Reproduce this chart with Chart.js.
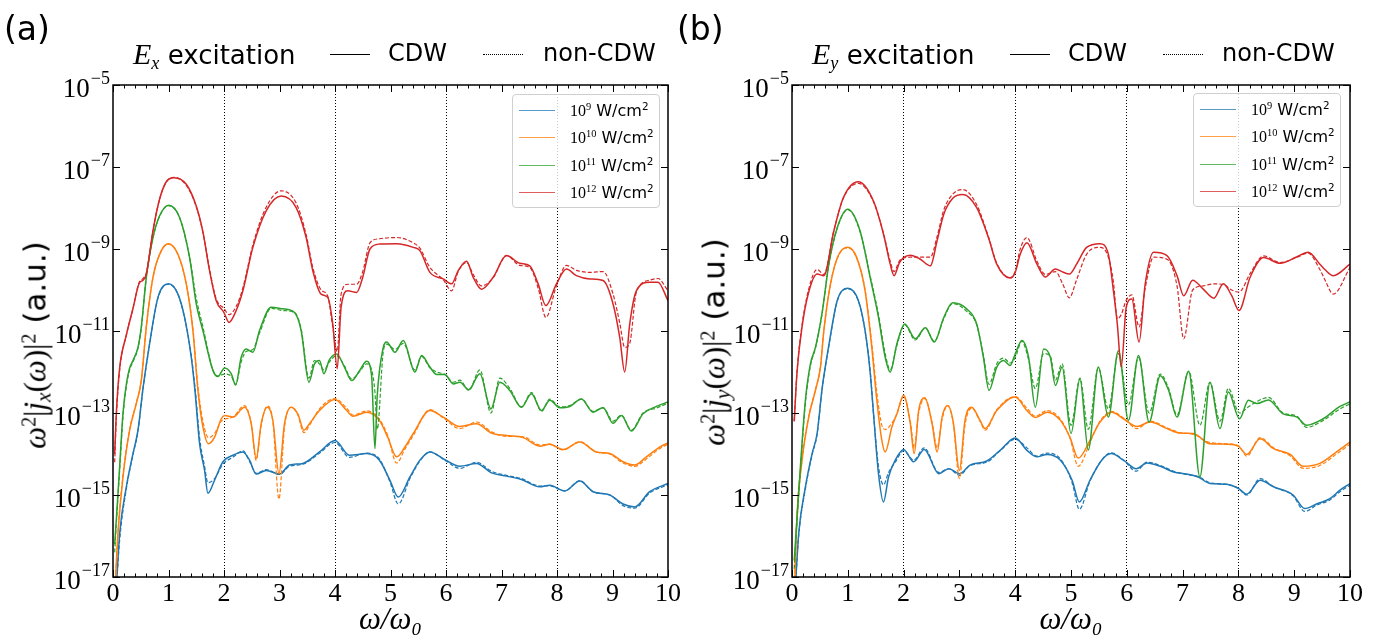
<!DOCTYPE html>
<html><head><meta charset="utf-8">
<script src="https://cdn.jsdelivr.net/npm/chart.js@4.4.1/dist/chart.umd.min.js"></script>
<style>
html,body{margin:0;padding:0;background:#fff;}
body{width:1379px;height:641px;position:relative;overflow:hidden;font-family:'DejaVu Sans',sans-serif;color:#000;}
canvas{position:absolute;top:0;}
.abs{position:absolute;white-space:nowrap;line-height:1;}
.tag{font-size:33px;top:12px;}
.ttl{font-size:24px;top:41px;}
.mi{font-family:'Liberation Serif',serif;font-style:italic;}
.rm{font-family:'Liberation Serif',serif;}
sup{font-size:0.65em;vertical-align:0.5em;line-height:0;}
sub{font-size:0.7em;vertical-align:-0.25em;line-height:0;}
.sample{position:absolute;width:40px;height:0;top:54px;}
.ylab{font-size:31px;transform:translate(-50%,-50%) rotate(-90deg);}
.legend{position:absolute;background:rgba(255,255,255,0.8);border:1px solid #cfcfcf;border-radius:4px;box-sizing:border-box;}
.lrow{position:absolute;left:0;height:0;}
.lline{position:absolute;left:6px;width:36px;height:0;border-top:1.8px solid;}
.ltxt{position:absolute;left:57px;font-size:16px;transform:translateY(-50%);white-space:nowrap;}
</style></head>
<body>
<canvas id="cA" width="690" height="641" style="left:0px;width:690px;height:641px"></canvas>
<canvas id="cB" width="694" height="641" style="left:685px;width:694px;height:641px"></canvas>

<div class="abs tag" style="left:4px">(a)</div>
<div class="abs ttl" style="left:133px;font-size:26px;top:39px"><span class="mi" style="font-size:30px">E</span><sub class="mi">x</sub> excitation</div>
<div class="sample" style="left:330px;border-top:1.5px solid #000"></div>
<div class="abs ttl" style="left:388px">CDW</div>
<div class="sample" style="left:483px;border-top:1.5px dotted #000"></div>
<div class="abs ttl" style="left:543px">non-CDW</div>

<div class="abs tag" style="left:677px">(b)</div>
<div class="abs ttl" style="left:812px;font-size:26px;top:39px"><span class="mi" style="font-size:30px">E</span><sub class="mi">y</sub> excitation</div>
<div class="sample" style="left:1010px;border-top:1.5px solid #000"></div>
<div class="abs ttl" style="left:1068px">CDW</div>
<div class="sample" style="left:1163px;border-top:1.5px dotted #000"></div>
<div class="abs ttl" style="left:1222px">non-CDW</div>

<div class="abs ylab" style="left:35px;top:345px"><span class="mi">ω</span><sup class="rm">2</sup><span class="rm">|</span><span class="mi">j</span><sub class="mi">x</sub><span class="rm">(</span><span class="mi">ω</span><span class="rm">)|</span><sup class="rm">2</sup> (a.u.)</div>
<div class="abs ylab" style="left:714px;top:342px"><span class="mi">ω</span><sup class="rm">2</sup><span class="rm">|</span><span class="mi">j</span><sub class="mi">y</sub><span class="rm">(</span><span class="mi">ω</span><span class="rm">)|</span><sup class="rm">2</sup> (a.u.)</div>

<div id="legA" class="legend" style="left:512px;top:94px;width:148px;height:114px"></div>
<div id="legB" class="legend" style="left:1193px;top:93px;width:148px;height:114px"></div>

<script>
// ---------- data (values are log10 of ω²|j(ω)|²) ----------
const intensityExp = [9, 10, 11, 12];
const seriesColors = ['#1f77b4', '#ff7f0e', '#2ca02c', '#d62728'];
const yTickExp = [-17, -15, -13, -11, -9, -7, -5];
const xTicks = [0,1,2,3,4,5,6,7,8,9,10];
const dottedLinesAt = [2, 4, 6, 8];

// Panel (a): E_x excitation
const xA_blue = [0.05,0.12,0.24,0.36,0.45,0.54,0.66,0.81,1.00,1.17,1.29,1.41,1.48,1.56,1.65,1.71,1.83,1.98,2.16,2.34,2.46,2.58,2.76,3.00,3.18,3.42,3.72,4.00,4.26,4.57,4.80,4.99,5.14,5.35,5.53,5.71,5.98,6.25,6.55,6.82,7.09,7.36,7.69,7.87,8.14,8.41,8.65,8.95,9.19,9.40,9.67,10.0];
const yA_blue_cdw = [-17.5,-15.94,-14.80,-13.99,-13.42,-12.4,-11.3,-10.18,-9.85,-10.10,-10.67,-11.64,-12.5,-13.75,-14.40,-14.96,-14.64,-14.19,-14.03,-13.95,-14.15,-14.49,-14.40,-14.49,-14.27,-14.23,-13.95,-13.67,-14.03,-13.99,-14.15,-14.64,-15.05,-14.56,-14.15,-13.95,-14.14,-14.30,-14.23,-14.46,-14.54,-14.62,-14.80,-14.76,-14.90,-14.66,-14.92,-15.0,-15.22,-15.29,-14.92,-14.72];
const yA_blue_non = [-17.5,-16.1,-14.85,-14.02,-13.45,-12.42,-11.32,-10.2,-9.86,-10.1,-10.68,-11.6,-12.4,-13.6,-14.3,-14.7,-14.6,-14.25,-14.08,-13.92,-14.18,-14.47,-14.38,-14.5,-14.3,-14.25,-13.98,-13.72,-14.08,-13.98,-14.12,-14.68,-15.22,-14.6,-14.17,-13.95,-14.15,-14.35,-14.2,-14.42,-14.52,-14.6,-14.78,-14.78,-14.9,-14.65,-14.92,-15.0,-15.26,-15.32,-14.95,-14.75];

const xA_orange = [0.03,0.09,0.18,0.30,0.42,0.51,0.60,0.72,0.87,1.00,1.17,1.32,1.44,1.53,1.62,1.72,1.83,1.95,2.01,2.16,2.37,2.49,2.58,2.67,2.78,2.88,2.99,3.09,3.21,3.33,3.44,3.54,3.72,4.00,4.21,4.32,4.57,4.80,4.95,5.11,5.26,5.41,5.71,5.95,6.25,6.55,6.82,7.09,7.39,7.69,7.87,8.11,8.41,8.71,8.95,9.19,9.40,9.61,9.85,10.0];
const yA_orange_cdw = [-17.5,-15.94,-14.56,-13.42,-12.77,-12.21,-10.9,-9.69,-9.04,-8.87,-9.13,-9.85,-10.99,-12.45,-13.34,-13.75,-13.59,-13.14,-13.06,-13.10,-12.86,-13.26,-14.11,-13.26,-12.86,-13.18,-14.48,-13.26,-12.86,-13.02,-13.42,-13.26,-12.94,-12.67,-12.94,-13.08,-12.98,-13.18,-13.59,-14.07,-13.83,-13.50,-12.94,-13.10,-13.33,-13.26,-13.49,-13.55,-13.60,-13.81,-13.76,-13.89,-13.71,-13.95,-13.99,-14.19,-14.27,-14.07,-13.83,-13.73];
const yA_orange_non = [-17.5,-15.9,-14.52,-13.4,-12.75,-12.2,-10.9,-9.7,-9.05,-8.88,-9.14,-9.86,-10.95,-12.35,-13.2,-13.6,-13.5,-13.2,-13.15,-13.1,-12.82,-13.25,-14.15,-13.3,-12.83,-13.2,-15.1,-13.35,-12.86,-13.05,-13.48,-13.3,-12.9,-12.65,-12.88,-13.05,-12.95,-13.15,-13.55,-14.22,-13.88,-13.55,-12.92,-13.12,-13.38,-13.22,-13.46,-13.57,-13.58,-13.78,-13.76,-13.9,-13.7,-13.95,-14.0,-14.22,-14.3,-14.12,-13.87,-13.76];

const xA_green = [0.03,0.06,0.12,0.18,0.24,0.30,0.36,0.45,0.51,0.60,0.72,0.84,1.00,1.20,1.38,1.50,1.62,1.80,1.89,2.01,2.13,2.21,2.31,2.40,2.52,2.64,2.85,3.06,3.27,3.39,3.53,3.63,3.72,3.80,3.90,4.03,4.17,4.30,4.45,4.57,4.66,4.72,4.76,4.87,4.93,5.08,5.23,5.44,5.56,5.71,5.83,5.98,6.13,6.25,6.41,6.61,6.81,6.97,7.15,7.36,7.54,7.72,7.87,8.05,8.23,8.44,8.65,8.83,9.01,9.16,9.34,9.55,9.79,10.0];
const yA_green_cdw = [-16.2,-15.6,-14.3,-13.0,-12.3,-11.9,-11.72,-11.40,-10.9,-9.69,-8.72,-8.19,-7.93,-8.23,-9.21,-10.34,-10.99,-11.96,-12.11,-11.90,-12.04,-12.32,-11.64,-11.44,-11.52,-10.99,-10.42,-10.46,-10.55,-10.99,-12.25,-11.80,-11.72,-12.04,-11.70,-11.56,-11.88,-12.21,-11.95,-11.74,-12.1,-13.87,-12.6,-11.40,-11.27,-11.52,-11.23,-12.0,-11.60,-11.88,-12.06,-12.06,-12.29,-12.25,-12.43,-12.04,-12.90,-12.25,-12.45,-12.86,-12.53,-12.94,-12.69,-12.87,-12.84,-12.66,-12.98,-12.87,-13.25,-13.06,-13.44,-13.02,-12.84,-12.73];
const yA_green_non = [-16.4,-15.7,-14.4,-13.1,-12.35,-11.95,-11.75,-11.42,-10.92,-9.7,-8.73,-8.2,-7.94,-8.24,-9.2,-10.2,-10.9,-11.95,-12.1,-12.05,-12.1,-12.3,-11.75,-11.5,-11.45,-11.05,-10.45,-10.5,-10.55,-10.95,-12.15,-11.72,-11.8,-11.95,-11.75,-11.6,-11.85,-12.17,-11.98,-11.8,-11.95,-12.5,-13.4,-11.5,-11.32,-11.45,-11.3,-11.95,-11.62,-11.9,-12.0,-12.06,-12.25,-12.2,-12.45,-11.95,-13.0,-12.15,-12.4,-12.85,-12.5,-12.96,-12.66,-12.85,-12.82,-12.66,-12.96,-12.87,-13.2,-13.05,-13.42,-13.0,-12.88,-12.76];

const xA_red = [0.03,0.06,0.12,0.24,0.36,0.47,0.54,0.60,0.72,0.84,0.96,1.10,1.32,1.50,1.62,1.74,1.86,2.00,2.09,2.22,2.34,2.52,2.76,3.03,3.30,3.48,3.60,3.75,3.87,3.96,4.04,4.11,4.23,4.39,4.50,4.63,4.80,5.11,5.41,5.53,5.71,5.95,6.10,6.22,6.37,6.49,6.64,6.85,7.09,7.33,7.51,7.66,7.80,7.99,8.17,8.35,8.59,8.83,9.01,9.13,9.22,9.31,9.43,9.67,9.82,10.0];
const yA_red_cdw = [-14.0,-13.0,-11.9,-11.1,-10.45,-9.84,-9.76,-9.62,-8.56,-7.78,-7.36,-7.26,-7.42,-7.95,-8.58,-9.53,-10.26,-10.55,-10.79,-10.50,-10.02,-8.96,-8.07,-7.71,-7.99,-8.72,-9.53,-10.10,-10.18,-10.83,-11.92,-10.42,-10.02,-10.06,-9.69,-9.0,-8.88,-8.87,-8.96,-9.04,-9.57,-9.73,-9.85,-9.53,-9.30,-9.69,-9.98,-9.69,-9.16,-9.35,-9.41,-9.85,-10.38,-9.85,-9.49,-9.65,-9.73,-9.77,-10.34,-11.15,-12.0,-10.83,-10.02,-9.81,-9.81,-10.26];
const yA_red_non = [-14.2,-13.1,-11.95,-11.1,-10.45,-9.82,-9.72,-9.58,-8.55,-7.78,-7.37,-7.25,-7.45,-7.97,-8.6,-9.5,-10.22,-10.45,-10.6,-10.4,-9.95,-8.9,-7.98,-7.58,-7.88,-8.65,-9.45,-10.0,-10.15,-10.9,-11.5,-10.1,-9.86,-9.86,-9.55,-8.85,-8.75,-8.72,-8.85,-8.98,-9.45,-9.75,-10.02,-9.55,-9.33,-9.62,-9.9,-9.7,-9.16,-9.4,-9.45,-9.95,-10.67,-9.9,-9.4,-9.52,-9.57,-9.55,-10.1,-10.8,-11.4,-11.3,-10.05,-9.76,-9.72,-10.02];

// Panel (b): E_y excitation
const xB_blue = [0.05,0.12,0.24,0.36,0.45,0.54,0.66,0.81,1.00,1.19,1.31,1.40,1.46,1.55,1.64,1.73,1.85,2.00,2.18,2.37,2.63,2.81,3.00,3.19,3.49,3.73,4.00,4.21,4.39,4.57,4.81,5.02,5.15,5.34,5.55,5.72,5.94,6.17,6.36,6.60,6.84,7.07,7.28,7.49,7.79,8.00,8.15,8.39,8.63,8.98,9.19,9.40,9.64,9.82,10.0];
const yB_blue_cdw = [-17.5,-15.94,-14.80,-13.99,-13.50,-12.4,-11.35,-10.26,-9.96,-10.26,-10.99,-12.0,-13.0,-14.48,-15.17,-14.56,-14.15,-13.89,-14.19,-13.89,-14.48,-14.36,-14.48,-14.27,-14.17,-13.91,-13.61,-13.91,-14.07,-14.01,-14.15,-14.64,-15.17,-14.64,-14.15,-13.99,-14.15,-14.36,-14.22,-14.30,-14.44,-14.49,-14.56,-14.72,-14.74,-14.84,-14.98,-14.64,-14.80,-15.0,-15.33,-15.22,-15.09,-14.88,-14.72];
const yB_blue_non = [-17.5,-16.0,-14.85,-14.02,-13.52,-12.42,-11.37,-10.27,-9.97,-10.27,-11.0,-11.95,-13.0,-14.3,-14.75,-14.45,-14.2,-13.92,-14.15,-13.85,-14.45,-14.36,-14.52,-14.28,-14.2,-13.92,-13.64,-13.85,-14.05,-13.98,-14.12,-14.7,-15.35,-14.66,-14.15,-13.97,-14.15,-14.42,-14.2,-14.28,-14.42,-14.5,-14.55,-14.7,-14.74,-14.84,-15.0,-14.6,-14.8,-15.02,-15.4,-15.25,-15.12,-14.92,-14.76];

const xB_orange = [0.04,0.09,0.18,0.30,0.42,0.51,0.57,0.69,0.83,1.00,1.16,1.31,1.43,1.52,1.61,1.67,1.79,1.88,2.00,2.12,2.19,2.27,2.38,2.51,2.60,2.69,2.79,2.89,3.00,3.10,3.22,3.37,3.46,3.67,4.00,4.21,4.36,4.57,4.81,4.98,5.13,5.34,5.52,5.73,5.94,6.18,6.42,6.72,6.95,7.19,7.49,7.79,8.00,8.15,8.39,8.63,8.93,9.16,9.46,9.76,10.0];
const yB_orange_cdw = [-17.5,-15.53,-14.15,-13.10,-12.45,-11.88,-11.0,-9.85,-9.16,-8.96,-9.21,-10.02,-11.4,-12.69,-13.67,-13.95,-13.34,-13.02,-12.57,-13.26,-13.99,-12.94,-12.63,-13.26,-13.95,-13.10,-12.82,-13.22,-14.40,-13.18,-12.86,-13.18,-13.38,-12.94,-12.61,-12.94,-13.11,-12.98,-13.18,-13.59,-14.10,-13.67,-13.22,-12.98,-13.14,-13.33,-13.22,-13.38,-13.49,-13.50,-13.75,-13.76,-13.81,-14.01,-13.63,-13.87,-14.01,-14.30,-14.23,-13.95,-13.71];
const yB_orange_non = [-17.5,-15.5,-14.12,-13.08,-12.43,-11.87,-11.0,-9.86,-9.17,-8.97,-9.22,-10.0,-11.3,-12.5,-13.3,-13.4,-13.25,-13.02,-12.6,-13.2,-13.85,-13.0,-12.65,-13.22,-13.85,-13.15,-12.82,-13.25,-14.6,-13.3,-12.88,-13.2,-13.42,-12.92,-12.6,-12.88,-13.08,-12.94,-13.15,-13.6,-14.3,-13.72,-13.2,-12.96,-13.12,-13.38,-13.2,-13.36,-13.48,-13.52,-13.72,-13.75,-13.8,-14.05,-13.6,-13.85,-14.05,-14.35,-14.28,-14.0,-13.76];

const xB_green = [0.04,0.06,0.15,0.24,0.33,0.42,0.54,0.66,0.81,1.00,1.22,1.40,1.55,1.67,1.76,1.88,2.02,2.21,2.39,2.55,2.72,2.88,3.13,3.31,3.43,3.53,3.67,3.79,3.91,4.00,4.12,4.24,4.36,4.51,4.63,4.72,4.84,5.00,5.16,5.31,5.49,5.67,5.85,6.03,6.21,6.40,6.60,6.75,6.90,7.11,7.31,7.49,7.67,7.82,8.02,8.18,8.33,8.54,8.80,9.05,9.22,9.52,9.82,10.0];
const yB_green_cdw = [-16.6,-16.18,-14.32,-12.69,-11.80,-11.40,-10.55,-9.37,-8.48,-8.03,-8.56,-9.69,-10.67,-11.64,-12.0,-11.31,-10.83,-11.19,-10.92,-11.27,-10.67,-10.31,-10.46,-10.83,-11.64,-12.45,-11.88,-11.72,-11.84,-11.56,-11.23,-11.64,-12.86,-11.44,-11.64,-12.33,-11.88,-13.50,-12.17,-13.90,-11.88,-13.10,-11.48,-13.18,-11.60,-13.22,-12.09,-12.45,-13.10,-11.99,-14.56,-12.25,-13.38,-12.49,-13.14,-12.69,-12.77,-12.68,-13.02,-13.10,-13.30,-13.14,-12.84,-12.73];
const yB_green_non = [-16.8,-16.3,-14.4,-12.75,-11.85,-11.42,-10.57,-9.38,-8.5,-8.04,-8.58,-9.65,-10.6,-11.55,-11.95,-11.35,-10.85,-11.22,-10.92,-11.25,-10.7,-10.33,-10.52,-10.85,-11.6,-12.3,-11.8,-11.66,-11.78,-11.65,-11.25,-11.7,-12.4,-11.55,-11.62,-12.2,-11.8,-13.3,-12.15,-13.4,-11.9,-12.9,-11.55,-12.8,-11.65,-13.0,-12.05,-12.4,-13.05,-11.98,-13.3,-12.25,-13.2,-12.4,-13.0,-12.85,-12.72,-12.62,-13.0,-13.08,-13.35,-13.18,-12.9,-12.78];

const xB_red = [0.04,0.09,0.18,0.30,0.45,0.57,0.75,0.92,1.19,1.46,1.64,1.76,1.83,1.92,2.00,2.12,2.30,2.48,2.60,2.72,2.89,3.06,3.31,3.52,3.67,3.91,4.00,4.09,4.21,4.39,4.54,4.72,4.85,4.97,5.10,5.28,5.52,5.67,5.76,5.83,5.90,5.99,6.09,6.22,6.33,6.48,6.72,6.90,7.02,7.18,7.37,7.56,7.73,7.88,8.01,8.21,8.45,8.75,9.05,9.25,9.46,9.55,9.70,10.0];
const yB_red_cdw = [-13.2,-12.0,-10.9,-10.05,-9.61,-9.65,-8.56,-7.75,-7.36,-7.83,-8.64,-9.37,-9.65,-9.35,-9.21,-9.15,-9.25,-9.41,-8.80,-8.15,-7.75,-7.67,-7.99,-8.72,-9.37,-9.71,-9.57,-9.13,-8.85,-9.37,-9.68,-9.49,-9.56,-9.61,-9.37,-8.96,-8.87,-9.13,-10.02,-10.83,-11.88,-10.42,-10.22,-11.27,-9.85,-9.08,-9.16,-9.65,-10.14,-9.76,-9.98,-10.20,-9.85,-10.14,-10.50,-9.69,-9.21,-9.35,-9.19,-9.08,-9.37,-9.5,-9.65,-9.37];
const yB_red_non = [-13.2,-12.0,-10.85,-9.98,-9.5,-9.62,-8.55,-7.76,-7.4,-7.85,-8.62,-9.3,-9.55,-9.3,-9.22,-9.2,-9.2,-9.2,-8.7,-8.05,-7.65,-7.55,-7.92,-8.7,-9.35,-9.7,-9.55,-9.0,-8.72,-9.3,-9.62,-9.55,-9.85,-10.19,-9.75,-9.13,-8.96,-9.2,-9.8,-10.7,-10.6,-10.25,-10.12,-10.9,-9.95,-9.2,-9.25,-9.9,-11.19,-10.0,-9.9,-9.85,-9.87,-10.0,-10.05,-9.6,-9.17,-9.33,-9.2,-9.1,-9.5,-9.75,-10.1,-9.45];

// ---------- build ----------
const pts = (xs, ls) => xs.map((x, i) => ({x: x, y: Math.pow(10, ls[i])}));

const panelA = [
  [xA_blue, yA_blue_cdw, yA_blue_non],
  [xA_orange, yA_orange_cdw, yA_orange_non],
  [xA_green, yA_green_cdw, yA_green_non],
  [xA_red, yA_red_cdw, yA_red_non]
];
const panelB = [
  [xB_blue, yB_blue_cdw, yB_blue_non],
  [xB_orange, yB_orange_cdw, yB_orange_non],
  [xB_green, yB_green_cdw, yB_green_non],
  [xB_red, yB_red_cdw, yB_red_non]
];

function datasets(panel) {
  const out = [];
  for (let k = panel.length - 1; k >= 0; k--) {
    const [xs, cdw, non] = panel[k];
    const lab = '10^' + intensityExp[k] + ' W/cm^2';
    out.push({label: lab + ' CDW', data: pts(xs, cdw), borderColor: seriesColors[k], borderWidth: 1.5,
      pointRadius: 0, cubicInterpolationMode: 'monotone', fill: false});
    out.push({label: lab + ' non-CDW', data: pts(xs, non), borderColor: seriesColors[k], borderWidth: 1.2,
      borderDash: [4, 2], pointRadius: 0, cubicInterpolationMode: 'monotone', fill: false});
  }
  return out;
}

// frame, inward ticks and 10^n tick labels drawn from the library's scales
const framePlugin = {
  id: 'frame',
  afterDatasetsDraw(chart) {
    const {ctx, chartArea: a, scales: {x, y}} = chart;
    ctx.save();
    ctx.strokeStyle = '#000';
    ctx.lineWidth = 1;
    ctx.beginPath();
    for (let i = 0; i <= 50; i++) {
      const px = Math.round(x.getPixelForValue(i / 5)) + 0.5;
      const len = (i % 5 === 0) ? 7 : 3.5;
      ctx.moveTo(px, a.bottom); ctx.lineTo(px, a.bottom - len);
      ctx.moveTo(px, a.top); ctx.lineTo(px, a.top + len);
    }
    y.ticks.forEach(t => {
      const py = Math.round(y.getPixelForValue(t.value)) + 0.5;
      ctx.moveTo(a.left, py); ctx.lineTo(a.left + 7, py);
      ctx.moveTo(a.right, py); ctx.lineTo(a.right - 7, py);
    });
    ctx.stroke();
    ctx.lineWidth = 1.5;
    ctx.strokeRect(a.left, a.top, a.right - a.left, a.bottom - a.top);

    // y tick labels: "10" with raised exponent
    ctx.fillStyle = '#000';
    ctx.textBaseline = 'alphabetic';
    ctx.textAlign = 'left';
    y.ticks.forEach(t => {
      const py = y.getPixelForValue(t.value);
      const e = '\u2212' + String(Math.abs(Math.round(Math.log10(t.value))));
      ctx.font = '18px "Liberation Serif"';
      const ew = ctx.measureText(e).width;
      ctx.font = '27px "Liberation Serif"';
      const bw = ctx.measureText('10').width;
      const right = a.left - 3;
      ctx.fillText('10', right - ew - bw - 1, py + 12);
      ctx.font = '18px "Liberation Serif"';
      ctx.fillText(e, right - ew, py - 1);
    });
    ctx.restore();
  }
};

function makeChart(id, panel, yWidth, padRight) {
  new Chart(document.getElementById(id), {
    type: 'line',
    data: {datasets: datasets(panel)},
    options: {
      responsive: false, animation: false, devicePixelRatio: 1,
      layout: {padding: {left: 0, right: padRight, top: 85, bottom: 0}},
      plugins: {legend: {display: false}, tooltip: {enabled: false}},
      scales: {
        x: {
          type: 'linear', min: 0, max: 10,
          afterBuildTicks: s => { s.ticks = xTicks.map(v => ({value: v})); },
          afterFit: s => { s.height = 64; },
          ticks: {autoSkip: false, maxRotation: 0, padding: 2, color: '#000',
            font: {family: 'Liberation Serif', size: 26}, callback: v => String(v)},
          grid: {drawTicks: false, lineWidth: 1,
            color: c => (c.tick && dottedLinesAt.includes(c.tick.value)) ? '#000' : 'rgba(0,0,0,0)'},
          border: {display: false, dash: [1, 2]},
          title: {display: true, text: 'ω/ω₀', color: '#000',
            font: {family: 'Liberation Serif', size: 31, style: 'italic'}, padding: {top: 0, bottom: 2}}
        },
        y: {
          type: 'logarithmic', min: 1e-17, max: 1e-5,
          afterBuildTicks: s => { s.ticks = yTickExp.map(e => ({value: Math.pow(10, e)})); },
          afterFit: s => { s.width = yWidth; },
          ticks: {display: false},
          grid: {display: false, drawTicks: false},
          border: {display: false}
        }
      }
    },
    plugins: [framePlugin]
  });
}

makeChart('cA', panelA, 113, 22);
makeChart('cB', panelB, 107, 29);

function buildLegend(id) {
  const box = document.getElementById(id);
  intensityExp.forEach((e, k) => {
    const row = document.createElement('div');
    row.className = 'lrow';
    row.style.top = (15 + k * 27.3) + 'px';
    const line = document.createElement('div');
    line.className = 'lline';
    line.style.borderTopColor = seriesColors[k];
    line.style.opacity = '0.75';
    const txt = document.createElement('div');
    txt.className = 'ltxt';
    txt.innerHTML = '<span class="rm">10<sup>' + e + '</sup></span> W/cm<sup>2</sup>';
    row.appendChild(line); row.appendChild(txt);
    box.appendChild(row);
  });
}
buildLegend('legA');
buildLegend('legB');
</script>
</body></html>
